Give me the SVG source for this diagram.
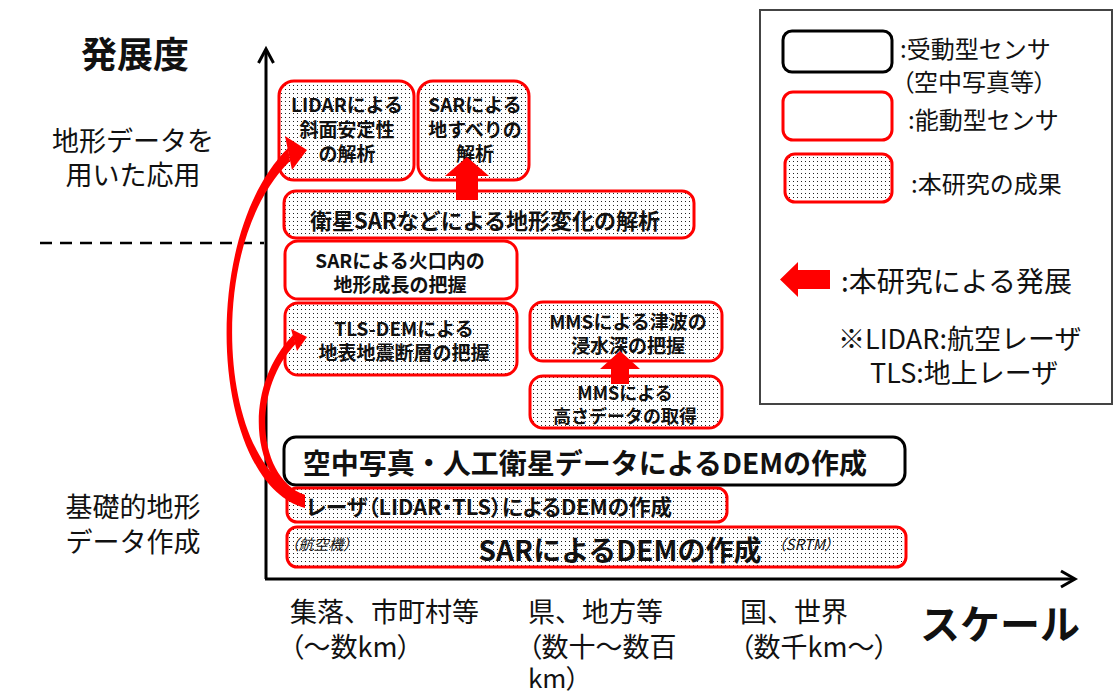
<svg xmlns="http://www.w3.org/2000/svg" width="1118" height="693" viewBox="0 0 1118 693">
<style>
.t{font-family:"Noto Sans CJK JP","Noto Sans",sans-serif;fill:#111}
.b{font-weight:bold}
.m{text-anchor:middle}
.c{dominant-baseline:central}
.p{font-feature-settings:"palt"}
.red{fill:#fff;stroke:#f00;stroke-width:3}
.dot{fill:url(#dots);stroke:#f00;stroke-width:3}
.blk{fill:#fff;stroke:#000;stroke-width:3}
.axis{stroke:#000;stroke-width:3;fill:none}
.ar{fill:#f00}
</style>
<defs>
<pattern id="dots" width="4" height="4" patternUnits="userSpaceOnUse">
<rect width="4" height="4" fill="#fff"/>
<rect x="1" y="1" width="1" height="1" fill="#222"/>
</pattern>
</defs>
<rect width="1118" height="693" fill="#fff"/>

<g id="axes">
<line class="axis" x1="266" y1="579" x2="266" y2="50"/>
<polyline class="axis" points="258.5,63 266,49 273.5,63"/>
<line class="axis" x1="265" y1="579" x2="1074" y2="579"/>
<polyline class="axis" points="1061,571 1075,579 1061,587"/>
<line x1="40" y1="243" x2="264" y2="243" stroke="#000" stroke-width="2.5" stroke-dasharray="12 8"/>
</g>

<g id="axis-labels">
<text class="t b m c" x="135" y="52" font-size="36">発展度</text>
<text class="t m c" x="133" y="139" font-size="27">地形データを</text>
<text class="t m c" x="133" y="173" font-size="27">用いた応用</text>
<text class="t m c" x="133" y="505" font-size="27">基礎的地形</text>
<text class="t m c" x="133" y="540" font-size="27">データ作成</text>
<text class="t c" x="290" y="610" font-size="27">集落、市町村等</text>
<text class="t c p" x="290" y="645" font-size="27">（～数km）</text>
<text class="t c" x="528" y="610" font-size="27">県、地方等</text>
<text class="t c p" x="528" y="645" font-size="27">（数十～数百</text>
<text class="t c p" x="528" y="676" font-size="26">km）</text>
<text class="t c" x="740" y="610" font-size="27">国、世界</text>
<text class="t c p" x="740" y="645" font-size="27">（数千km～）</text>
<text class="t b c" x="920" y="622" font-size="40">スケール</text>
</g>

<g id="legend">
<rect x="760" y="10" width="352" height="394" fill="#fff" stroke="#444" stroke-width="2"/>
<rect class="blk" x="783" y="31" width="109" height="41" rx="9"/>
<text class="t c" x="900" y="47" font-size="24">:受動型センサ</text>
<text class="t c p" x="902" y="80" font-size="24">（空中写真等）</text>
<rect class="red" x="783" y="92" width="109" height="48" rx="10"/>
<text class="t c" x="908" y="118" font-size="24">:能動型センサ</text>
<rect class="dot" x="785" y="154" width="107" height="48" rx="10"/>
<text class="t c" x="911" y="182" font-size="24">:本研究の成果</text>
<polygon class="ar" points="780,279.5 798,262 798,270 830,270 830,289 798,289 798,297"/>
<text class="t c" x="841" y="280" font-size="28">:本研究による発展</text>
<text class="t c" x="838" y="337" font-size="27">※LIDAR:航空レーザ</text>
<text class="t c" x="870" y="371" font-size="27">TLS:地上レーザ</text>
</g>

<g id="n-lidar-slope">
<rect class="dot" x="279" y="81" width="135" height="99" rx="15"/>
<text class="t b m c" x="347" y="103" font-size="19">LIDARによる</text>
<text class="t b m c" x="347" y="128" font-size="19">斜面安定性</text>
<text class="t b m c" x="347" y="152" font-size="19">の解析</text>
</g>
<g id="n-sar-landslide">
<rect class="dot" x="418" y="81" width="111" height="99" rx="15"/>
<text class="t b m c" x="475" y="103" font-size="19">SARによる</text>
<text class="t b m c" x="475" y="128" font-size="19">地すべりの</text>
<text class="t b m c" x="475" y="152" font-size="19">解析</text>
</g>
<g id="n-satellite-sar">
<rect class="dot" x="284" y="191" width="410" height="47" rx="12"/>
<text class="t b m c" x="485" y="219" font-size="22">衛星SARなどによる地形変化の解析</text>
</g>
<g id="n-crater">
<rect class="red" x="285" y="241" width="232" height="58" rx="13"/>
<text class="t b m c" x="400" y="259" font-size="19">SARによる火口内の</text>
<text class="t b m c" x="400" y="283" font-size="19">地形成長の把握</text>
</g>
<g id="n-tls-dem">
<rect class="dot" x="285" y="303" width="232" height="72" rx="13"/>
<text class="t b m c" x="404" y="327" font-size="19">TLS-DEMによる</text>
<text class="t b m c" x="404" y="351" font-size="19">地表地震断層の把握</text>
</g>
<g id="n-mms-tsunami">
<rect class="dot" x="530" y="302" width="192" height="59" rx="13"/>
<text class="t b m c" x="628" y="320" font-size="19">MMSによる津波の</text>
<text class="t b m c" x="628" y="344" font-size="19">浸水深の把握</text>
</g>
<g id="n-mms-height">
<rect class="dot" x="530" y="376" width="192" height="52" rx="13"/>
<text class="t b m c" x="625" y="392" font-size="18">MMSによる</text>
<text class="t b m c" x="625" y="415" font-size="18">高さデータの取得</text>
</g>
<g id="n-photo-dem">
<rect class="blk" x="284" y="437" width="621" height="48" rx="12"/>
<text class="t b m c" x="585" y="462" font-size="28">空中写真・人工衛星データによるDEMの作成</text>
</g>
<g id="n-laser-dem">
<rect class="dot" x="287" y="488" width="440" height="34" rx="10"/>
<text class="t b c p" x="306" y="505" font-size="21.5">レーザ（LIDAR・TLS）によるDEMの作成</text>
</g>
<g id="n-sar-dem">
<rect class="dot" x="287" y="527" width="619" height="40" rx="10"/>
<text class="t c p" x="291" y="543" font-size="15" font-style="italic">（航空機）</text>
<text class="t b m c" x="620" y="549" font-size="28">SARによるDEMの作成</text>
<text class="t c p" x="778" y="543" font-size="15" font-style="italic">（SRTM）</text>
</g>

<g id="connectors">
<polygon class="ar" points="467,157 489,176 478,176 478,200 456,200 456,176 445,176"/>
<polygon class="ar" points="620,351 640,369 629,369 629,384 611,384 611,369 600,369"/>
<path class="ar" d="M305,508 C212,484 196,240 288,148 L290,161 C203,246 219,472 305,495 Z"/>
<polygon class="ar" points="285,136 307,150 292,170"/>
<path class="ar" d="M305,503 C252,485 240,390 293,335 L295.5,344 C250,392 258,478 305,495 Z"/>
<polygon class="ar" points="291,329 307,337 297,351"/>
</g>
</svg>
